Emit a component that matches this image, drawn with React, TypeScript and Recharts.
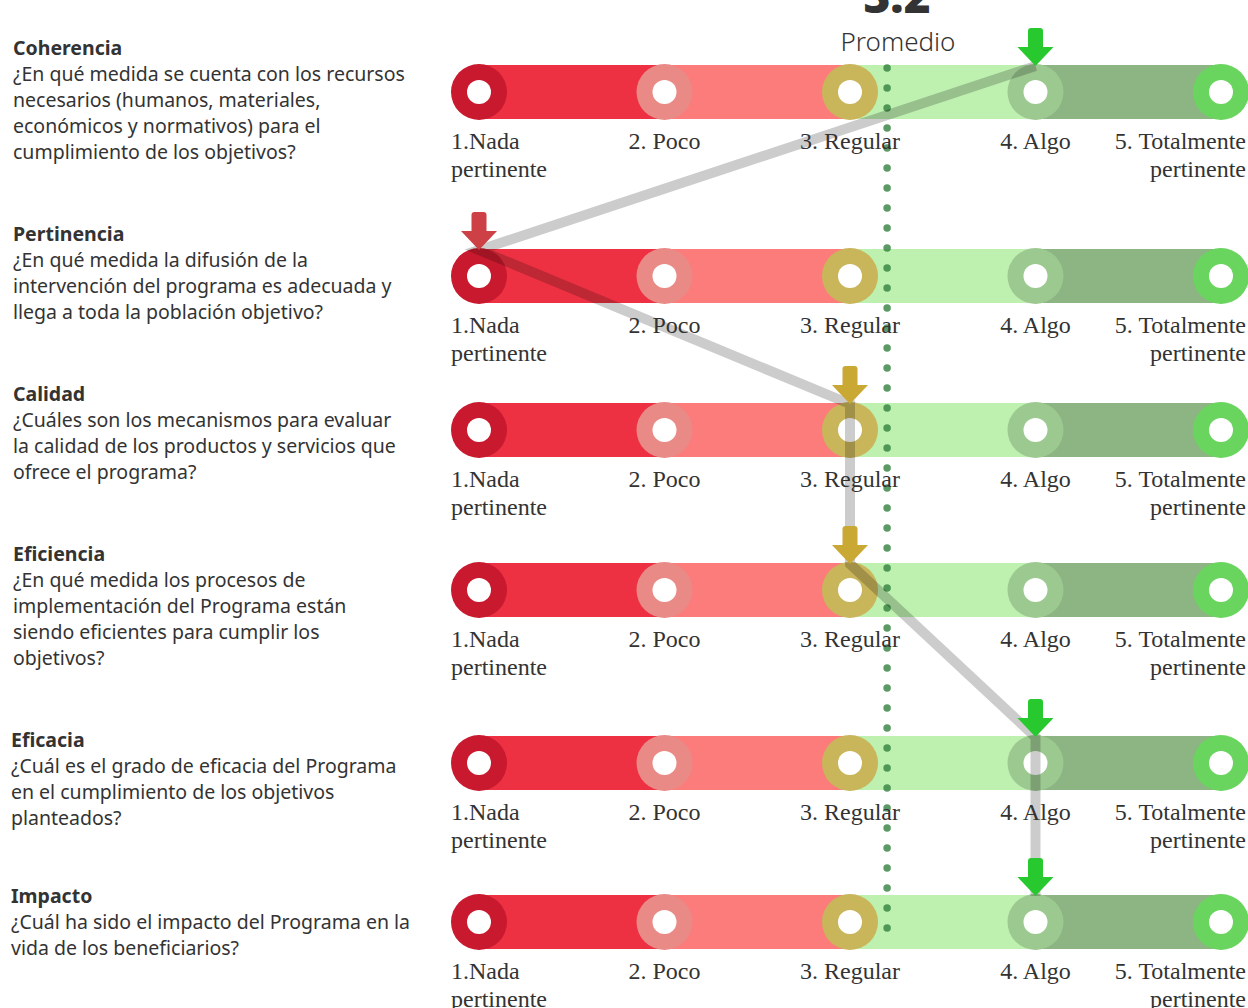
import { ComposedChart, Line, Scatter, XAxis, YAxis } from 'recharts'

const CRITERIA = ['Coherencia', 'Pertinencia', 'Calidad', 'Eficiencia', 'Eficacia', 'Impacto']
const QUESTIONS = [
  ['¿En qué medida se cuenta con los recursos', 'necesarios (humanos, materiales,', 'económicos y normativos) para el', 'cumplimiento de los objetivos?'],
  ['¿En qué medida la difusión de la', 'intervención del programa es adecuada y', 'llega a toda la población objetivo?'],
  ['¿Cuáles son los mecanismos para evaluar', 'la calidad de los productos y servicios que', 'ofrece el programa?'],
  ['¿En qué medida los procesos de', 'implementación del Programa están', 'siendo eficientes para cumplir los', 'objetivos?'],
  ['¿Cuál es el grado de eficacia del Programa', 'en el cumplimiento de los objetivos', 'planteados?'],
  ['¿Cuál ha sido el impacto del Programa en la', 'vida de los beneficiarios?'],
]
const SCORES = [4, 1, 3, 3, 4, 4]
const AVERAGE = 3.2
const LEVELS = [1, 2, 3, 4, 5]
const LEVEL_LABELS = [['1.Nada', 'pertinente'], ['2. Poco'], ['3. Regular'], ['4. Algo'], ['5. Totalmente', 'pertinente']]

// layout
const ROW_Y = [92, 276, 430, 590, 763, 922]
const TITLE_TOP = [35, 221, 381, 541, 727, 883]
const TITLE_LEFT = [13, 13, 13, 13, 11, 11]
const SEGMENT_COLORS = ['#EE3142', '#FC7C7B', '#BEF1B0', '#8DB483']
const CIRCLE_COLORS = ['#C8192E', '#E98A87', '#C9B55A', '#9CC990', '#69D55E']
const ARROW_COLORS = ['#CC4046', '#E98A87', '#C9A834', '#27C92E', '#69D55E']
const TIP_OFFSET = 26

const points = ROW_Y.flatMap(y => LEVELS.map(level => ({ x: level, y, level })))
const arrows = SCORES.map((s, i) => ({ x: s, y: ROW_Y[i] - TIP_OFFSET, level: s }))
const avgLine = [{ x: AVERAGE, y: 68 }, { x: AVERAGE, y: 948 }]

const Ring = (props: any) => {
  const { cx, cy, payload } = props
  return (
    <g>
      <circle cx={cx} cy={cy} r={28} fill={CIRCLE_COLORS[payload.level - 1]} />
      <circle cx={cx} cy={cy} r={12} fill="#fff" />
    </g>
  )
}

const Arrow = (props: any) => {
  const { cx, cy, payload } = props
  const c = ARROW_COLORS[payload.level - 1]
  return (
    <g fill={c}>
      <rect x={cx - 7.5} y={cy - 38} width={15} height={22} rx={3} />
      <polygon points={`${cx - 18},${cy - 19} ${cx + 18},${cy - 19} ${cx},${cy}`} />
    </g>
  )
}

const LevelLabel = (props: any) => {
  const { cx, cy, payload } = props
  const lines = LEVEL_LABELS[payload.level - 1]
  let x = cx
  let anchor: 'start' | 'middle' | 'end' = 'middle'
  if (payload.level === 1) { x = cx - 28; anchor = 'start' }
  if (payload.level === 5) { x = cx + 25; anchor = 'end' }
  return (
    <text x={x} textAnchor={anchor} fontFamily="'Liberation Serif', serif" fontSize={24} fill="#333">
      {lines.map((l, i) => (
        <tspan key={i} x={x} y={cy + 57 + i * 28}>{l}</tspan>
      ))}
    </text>
  )
}

export default function App() {
  return (
    <div style={{ position: 'absolute', left: 0, top: 0, width: 1248, height: 1008, background: '#fff', overflow: 'hidden' }}>
      {CRITERIA.map((name, i) => (
        <div
          key={name}
          style={{
            position: 'absolute', left: TITLE_LEFT[i], top: TITLE_TOP[i],
            fontFamily: "'Noto Sans', sans-serif", fontSize: 19.5, lineHeight: '26px', color: '#333', whiteSpace: 'nowrap',
          }}
        >
          <div style={{ fontWeight: 700 }}>{name}</div>
          {QUESTIONS[i].map((q, j) => <div key={j}>{q}</div>)}
        </div>
      ))}
      <div style={{ position: 'absolute', left: 790, width: 214, top: -28, textAlign: 'center', fontFamily: "'Noto Sans', sans-serif", fontWeight: 900, fontSize: 46, color: '#333', lineHeight: '46px' }}>
        {AVERAGE.toFixed(1)}
      </div>
      <div style={{ position: 'absolute', left: 790, width: 216, top: 24, textAlign: 'center', fontFamily: "'Noto Sans', sans-serif", fontWeight: 300, fontSize: 26, color: '#333', lineHeight: '34px' }}>
        Promedio
      </div>
      <div style={{ position: 'absolute', left: 0, top: 0 }}>
        <ComposedChart width={1248} height={1008} margin={{ top: 0, right: 27, bottom: 8, left: 479 }}>
          <XAxis type="number" dataKey="x" domain={[1, 5]} hide />
          <YAxis type="number" dataKey="y" domain={[0, 1000]} reversed hide />
          {ROW_Y.map((y, r) =>
            SEGMENT_COLORS.map((color, k) => (
              <Line
                key={`seg-${r}-${k}`}
                data={[{ x: LEVELS[k], y }, { x: LEVELS[k + 1], y }]}
                dataKey="y"
                stroke={color}
                strokeWidth={54}
                strokeLinecap={k === 3 ? 'round' : 'butt'}
                dot={false}
                activeDot={false}
                isAnimationActive={false}
              />
            ))
          )}
          <Line
            data={avgLine}
            dataKey="y"
            stroke="#2E7D3A"
            strokeOpacity={0.78}
            strokeWidth={7.5}
            strokeDasharray="0 20"
            strokeLinecap="round"
            dot={false}
            activeDot={false}
            isAnimationActive={false}
          />
          <Scatter data={points} shape={Ring} isAnimationActive={false} />
          <Scatter
            data={arrows}
            shape={Arrow}
            line={{ stroke: '#000', strokeOpacity: 0.2, strokeWidth: 10 }}
            lineJointType="linear"
            isAnimationActive={false}
          />
          <Scatter data={points} shape={LevelLabel} isAnimationActive={false} />
        </ComposedChart>
      </div>
    </div>
  )
}
